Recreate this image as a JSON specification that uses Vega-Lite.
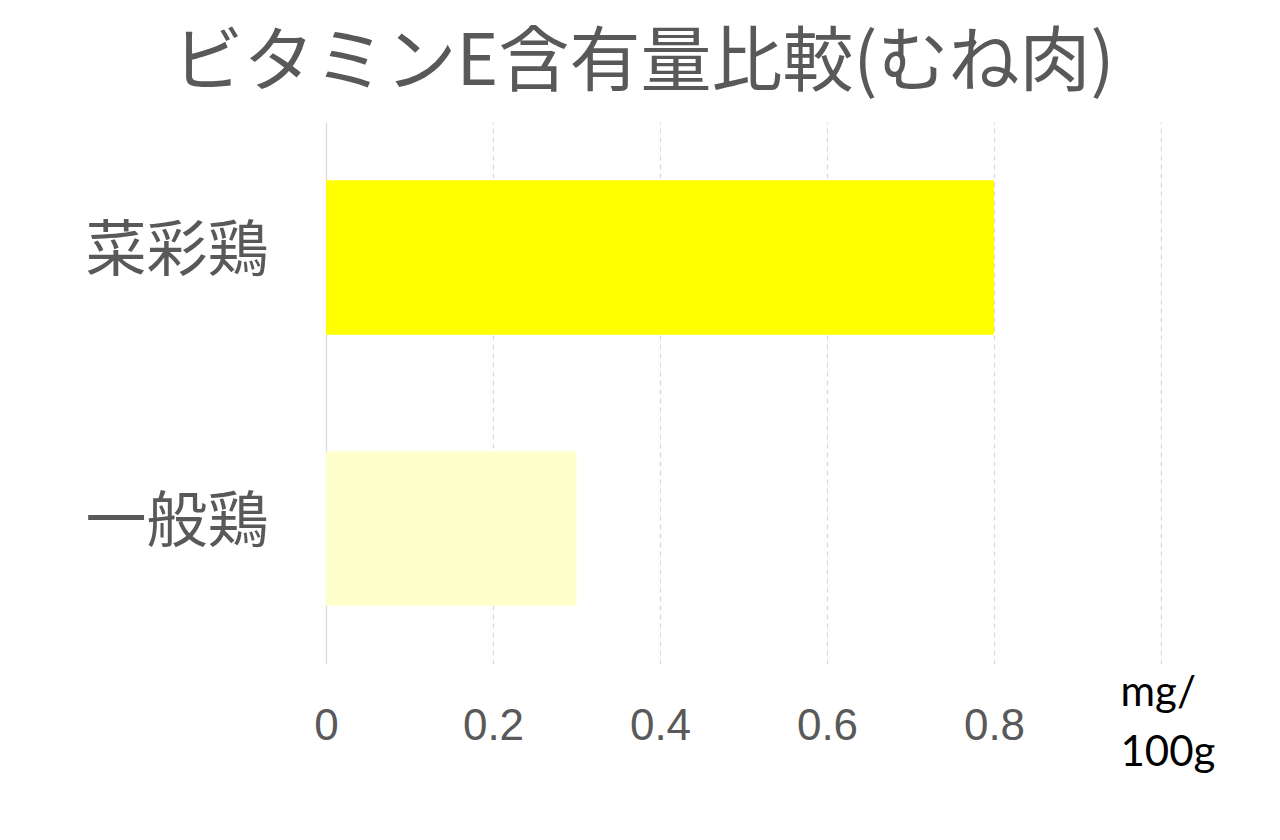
{
  "$schema": "https://vega.github.io/schema/vega-lite/v6.json",
  "autosize": "none",
  "width": 835,
  "height": 542,
  "padding": {"left": 326, "top": 122, "right": 119, "bottom": 176},
  "background": "white",
  "title": {
    "text": "ビタミンE含有量比較(むね肉)",
    "font": "Noto Sans CJK JP",
    "fontSize": 71,
    "fontWeight": "normal",
    "color": "#595959",
    "anchor": "middle",
    "baseline": "top",
    "offset": 0,
    "dx": -100,
    "dy": -22,
    "limit": 1200
  },
  "data": {
    "values": [
      {"category": "菜彩鶏", "value": 0.8},
      {"category": "一般鶏", "value": 0.3}
    ]
  },
  "mark": {"type": "bar"},
  "encoding": {
    "y": {
      "field": "category",
      "type": "nominal",
      "sort": null,
      "scale": {"paddingInner": 0.43, "paddingOuter": 0.215},
      "axis": {
        "title": null,
        "ticks": false,
        "domain": false,
        "labelPadding": 58,
        "labelLimit": 400,
        "labelFont": "Noto Sans CJK JP",
        "labelFontSize": 61,
        "labelColor": "#595959",
        "labelBaseline": "middle",
        "labelOffset": -5
      }
    },
    "x": {
      "field": "value",
      "type": "quantitative",
      "scale": {"domain": [0, 1], "nice": false},
      "axis": {
        "values": [0, 0.2, 0.4, 0.6, 0.8, 1],
        "labelExpr": "datum.value == 0 ? '0' : (datum.value >= 0.99 ? '' : format(datum.value, '.1f'))",
        "domain": false,
        "ticks": false,
        "grid": true,
        "gridColor": "#d9d9d9",
        "gridWidth": 1.2,
        "gridDash": {"condition": {"test": "datum.value === 0", "value": []}, "value": [5, 4]},
        "labelFont": "Liberation Sans",
        "labelFontSize": 44,
        "labelColor": "#595959",
        "labelPadding": 40,
        "labelFlush": false,
        "title": ["mg/", "100g"],
        "titleFont": "Lato",
        "titleFontSize": 42,
        "titleFontWeight": "normal",
        "titleColor": "#000000",
        "titleAlign": "left",
        "titleAnchor": "start",
        "titleBaseline": "alphabetic",
        "titleX": 794,
        "titleY": 41,
        "titleLineHeight": 60
      }
    },
    "color": {
      "field": "category",
      "type": "nominal",
      "scale": {"domain": ["菜彩鶏", "一般鶏"], "range": ["#FFFF00", "#FFFFCC"]},
      "legend": null
    }
  },
  "config": {"view": {"stroke": null}}
}
